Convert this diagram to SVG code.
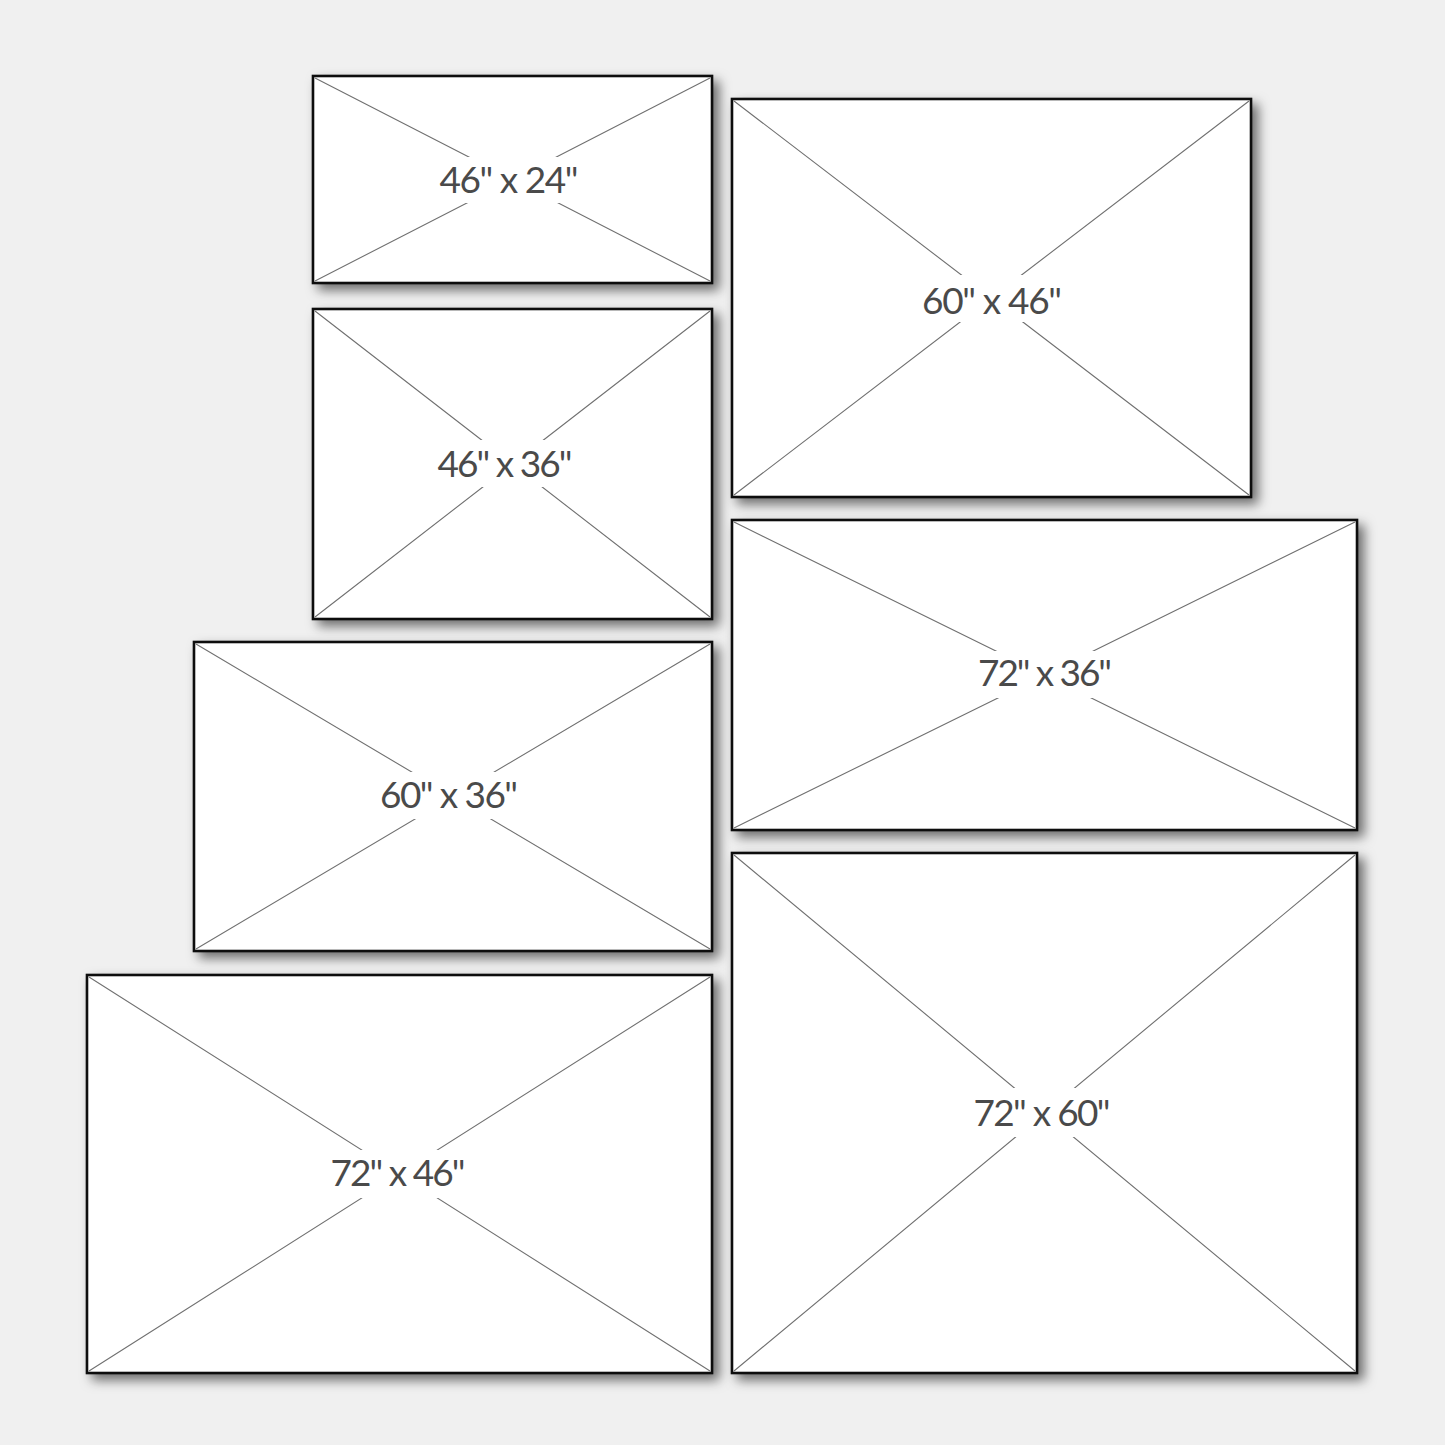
<svg xmlns="http://www.w3.org/2000/svg" width="1445" height="1445" viewBox="0 0 1445 1445">
<defs>
<filter id="sh" x="-10%" y="-10%" width="125%" height="125%">
<feDropShadow dx="6" dy="6" stdDeviation="6" flood-color="#000" flood-opacity="0.55"/>
</filter>
<style>
.frame{fill:#fff;stroke:#111;stroke-width:2.6;filter:url(#sh)}
.diag{stroke:#707070;stroke-width:1.1;fill:none}
.gap{fill:#fff;stroke:none}
.lbl{font-family:Lato,"Noto Sans","Liberation Sans",sans-serif;font-weight:400;font-size:37px;fill:#4a4a4a;text-anchor:middle}
</style>
</defs>
<rect width="1445" height="1445" fill="#f0f0f0"/>

<g id="r46x24">
<rect class="frame" x="313" y="76" width="399" height="207"/>
<path class="diag" d="M315 78 L710 281 M710 78 L315 281"/>
<rect class="gap" x="420" y="157" width="184" height="46"/>
<text class="lbl" x="509" y="193" textLength="139" lengthAdjust="spacing">46" x 24"</text>
</g>

<g id="r46x36">
<rect class="frame" x="313" y="309" width="399" height="310"/>
<path class="diag" d="M315 311 L710 617 M710 311 L315 617"/>
<rect class="gap" x="420" y="440" width="184" height="47"/>
<text class="lbl" x="505" y="477" textLength="135" lengthAdjust="spacing">46" x 36"</text>
</g>

<g id="r60x36">
<rect class="frame" x="194" y="642" width="518" height="309"/>
<path class="diag" d="M196 644 L710 949 M710 644 L196 949"/>
<rect class="gap" x="360" y="772" width="184" height="47"/>
<text class="lbl" x="449" y="808" textLength="138" lengthAdjust="spacing">60" x 36"</text>
</g>

<g id="r72x46">
<rect class="frame" x="87" y="975" width="625" height="398"/>
<path class="diag" d="M89 977 L710 1371 M710 977 L89 1371"/>
<rect class="gap" x="306" y="1150" width="184" height="48"/>
<text class="lbl" x="398" y="1186" textLength="135" lengthAdjust="spacing">72" x 46"</text>
</g>

<g id="r60x46">
<rect class="frame" x="732" y="99" width="519" height="398"/>
<path class="diag" d="M734 101 L1249 495 M1249 101 L734 495"/>
<rect class="gap" x="900" y="275" width="184" height="47"/>
<text class="lbl" x="992" y="314" textLength="140" lengthAdjust="spacing">60" x 46"</text>
</g>

<g id="r72x36">
<rect class="frame" x="732" y="520" width="625" height="310"/>
<path class="diag" d="M734 522 L1355 828 M1355 522 L734 828"/>
<rect class="gap" x="953" y="651" width="184" height="47"/>
<text class="lbl" x="1045" y="686" textLength="134" lengthAdjust="spacing">72" x 36"</text>
</g>

<g id="r72x60">
<rect class="frame" x="732" y="853" width="625" height="520"/>
<path class="diag" d="M734 855 L1355 1371 M1355 855 L734 1371"/>
<rect class="gap" x="950" y="1088" width="184" height="49"/>
<text class="lbl" x="1042" y="1126" textLength="137" lengthAdjust="spacing">72" x 60"</text>
</g>
</svg>
